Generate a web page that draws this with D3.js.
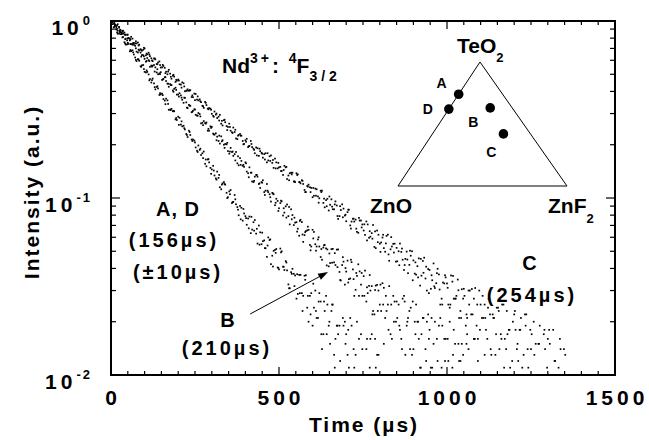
<!DOCTYPE html>
<html>
<head>
<meta charset="utf-8">
<script src="https://cdnjs.cloudflare.com/ajax/libs/d3/7.8.5/d3.min.js"></script>
<style>
  html, body { margin: 0; padding: 0; background: #fff; }
  #chart { width: 649px; height: 440px; }
  text { font-family: "Liberation Sans", Arial, Helvetica, sans-serif; font-weight: bold; fill: #000; }
</style>
</head>
<body>
<div id="chart"></div>
<script>
// 1. DATA (decay curves: [time in us, intensity])
// glasses A and D decay the same way (156 us); each glass was recorded in several scans
const adScan1 = [[0,1],[8,.922],[16,.923],[24,.851],[32,.843],[40,.759],[48,.738],[56,.674],[64,.683],[72,.622],[80,.609],[88,.555],[96,.564],[104,.512],[112,.499],[120,.449],[128,.444],[136,.424],[144,.382],[152,.389],[160,.355],[168,.356],[176,.316],[184,.309],[192,.278],[200,.288],[208,.260],[216,.256],[224,.230],[232,.240],[240,.214],[248,.211],[256,.185],[264,.187],[272,.179],[280,.156],[288,.165],[296,.148],[304,.152],[312,.129],[320,.130],[328,.112],[336,.123],[344,.107],[352,.109],[360,.0936],[368,.104],[376,.0889],[384,.0902],[392,.0745],[400,.0790],[408,.0766],[416,.0633],[424,.0730],[432,.0629],[440,.0699],[448,.0548],[456,.0576],[464,.0465],[472,.0579],[480,.0472],[488,.0509],[496,.0405],[504,.0518],[512,.0409],[520,.0440],[528,.0325],[536,.0381],[544,.0373],[552,.027],[560,.0368],[568,.029],[576,.0364],[584,.024],[592,.028],[600,.019],[608,.030],[616,.021],[624,.026],[632,.017],[640,.028],[648,.019],[656,.023],[664,.013],[672,.019],[680,.019],[696,.020],[704,.013],[712,.021],[728,.013],[744,.017],[760,.014],[776,.017],[792,.013]];

const adScan2 = [[4,.960],[12,.954],[20,.847],[28,.842],[36,.812],[44,.736],[52,.742],[60,.676],[68,.647],[76,.594],[84,.596],[92,.562],[100,.516],[108,.516],[116,.470],[124,.473],[132,.411],[140,.416],[148,.385],[156,.362],[164,.364],[172,.315],[180,.319],[188,.309],[196,.276],[204,.284],[212,.254],[220,.244],[228,.221],[236,.227],[244,.214],[252,.193],[260,.198],[268,.175],[276,.183],[284,.151],[292,.159],[300,.145],[308,.134],[316,.141],[324,.115],[332,.121],[340,.119],[348,.101],[356,.111],[364,.0951],[372,.0922],[380,.0799],[388,.0881],[396,.0818],[404,.0706],[412,.0786],[420,.0663],[428,.0751],[436,.0553],[444,.0640],[452,.0570],[460,.0520],[468,.0599],[476,.0423],[484,.0503],[492,.0515],[500,.0395],[508,.0500],[516,.0392],[524,.0390],[532,.0309],[540,.0398],[548,.0365],[556,.0287],[564,.0368],[572,.028],[580,.0366],[588,.020],[596,.029],[604,.024],[612,.021],[620,.029],[628,.014],[636,.023],[644,.025],[652,.015],[660,.025],[668,.016],[676,.017],[684,.010],[692,.019],[700,.017],[708,.011],[716,.019],[724,.011],[732,.020],[748,.014],[756,.010],[772,.016],[788,.011],[796,.013],[812,.015]];

const adScan3 = [[10,.927],[18,.862],[26,.870],[34,.808],[42,.746],[50,.753],[58,.686],[66,.665],[74,.603],[82,.606],[90,.551],[98,.535],[106,.526],[114,.462],[122,.463],[130,.423],[138,.428],[146,.391],[154,.381],[162,.339],[170,.340],[178,.314],[186,.311],[194,.283],[202,.259],[210,.271],[218,.248],[226,.227],[234,.236],[242,.210],[250,.206],[258,.182],[266,.190],[274,.168],[282,.165],[290,.166],[298,.137],[306,.143],[314,.127],[322,.135],[330,.119],[338,.120],[346,.100],[354,.105],[362,.0948],[370,.0983],[378,.0859],[386,.0758],[394,.0867],[402,.0770],[410,.0674],[418,.0783],[426,.0654],[434,.0670],[442,.0545],[450,.0637],[458,.0521],[466,.0539],[474,.0584],[482,.0410],[490,.0490],[498,.0403],[506,.0493],[514,.0409],[522,.0432],[530,.0309],[538,.0373],[546,.0318],[554,.0371],[562,.029],[570,.023],[578,.0345],[586,.028],[594,.022],[602,.0328],[610,.023],[618,.026],[626,.017],[634,.026],[642,.017],[650,.020],[658,.025],[666,.011],[674,.019],[682,.012],[690,.021],[698,.015],[706,.018],[722,.014],[738,.016],[762,.016],[770,.011],[786,.016]];

const bScan1 = [[4,.985],[8,.966],[16,.895],[24,.916],[32,.849],[40,.839],[48,.777],[56,.796],[64,.734],[72,.724],[80,.664],[88,.663],[96,.641],[104,.589],[112,.601],[120,.560],[128,.564],[136,.512],[144,.506],[152,.465],[160,.481],[168,.443],[176,.440],[184,.405],[192,.420],[200,.384],[208,.380],[216,.345],[224,.347],[232,.336],[240,.305],[248,.317],[256,.292],[264,.298],[272,.266],[280,.265],[288,.240],[296,.254],[304,.231],[312,.232],[320,.210],[328,.223],[336,.200],[344,.201],[352,.178],[360,.182],[368,.177],[376,.157],[384,.168],[392,.152],[400,.159],[408,.138],[416,.139],[424,.123],[432,.135],[440,.120],[448,.123],[456,.108],[464,.120],[472,.105],[480,.107],[488,.0910],[496,.0962],[504,.0936],[512,.0796],[520,.0897],[528,.0790],[536,.0863],[544,.0703],[552,.0730],[560,.0612],[568,.0731],[576,.0617],[584,.0656],[592,.0543],[600,.0661],[608,.0548],[616,.0583],[624,.0464],[632,.0525],[640,.0519],[648,.0411],[656,.0514],[664,.0433],[672,.0511],[680,.0382],[688,.0418],[696,.0324],[704,.0443],[712,.0351],[720,.0395],[728,.0303],[736,.0422],[744,.0324],[752,.0362],[760,.026],[768,.0319],[776,.0318],[784,.022],[792,.0323],[800,.025],[808,.033],[816,.021],[824,.025],[832,.017],[840,.028],[848,.020],[856,.025],[864,.016],[872,.028],[880,.019],[888,.023],[896,.013],[904,.020],[912,.020],[920,.011],[928,.021],[936,.014],[944,.022],[952,.011],[960,.015],[976,.019],[984,.011],[992,.016],[1008,.020],[1016,.011],[1024,.015],[1040,.012],[1048,.013],[1064,.014],[1080,.016],[1112,.013]];

const bScan2 = [[12,.944],[20,.882],[28,.892],[36,.852],[44,.795],[52,.802],[60,.742],[68,.752],[76,.671],[84,.681],[92,.642],[100,.611],[108,.618],[116,.551],[124,.559],[132,.547],[140,.500],[148,.514],[156,.471],[164,.458],[172,.425],[180,.434],[188,.414],[196,.384],[204,.391],[212,.359],[220,.368],[228,.322],[236,.332],[244,.311],[252,.295],[260,.302],[268,.264],[276,.272],[284,.267],[292,.240],[300,.252],[308,.228],[316,.222],[324,.203],[332,.212],[340,.202],[348,.184],[356,.192],[364,.173],[372,.182],[380,.153],[388,.162],[396,.150],[404,.141],[412,.149],[420,.124],[428,.132],[436,.132],[444,.114],[452,.126],[460,.110],[468,.108],[476,.0955],[484,.105],[492,.0990],[500,.0875],[508,.0958],[516,.0827],[524,.0919],[532,.0709],[540,.0801],[548,.0726],[556,.0671],[564,.0753],[572,.0565],[580,.0650],[588,.0661],[596,.0532],[604,.0643],[612,.0532],[620,.0532],[628,.0448],[636,.0543],[644,.0512],[652,.0429],[660,.0516],[668,.0418],[676,.0512],[684,.0342],[692,.0437],[700,.0384],[708,.0348],[716,.0434],[724,.028],[732,.0363],[740,.0385],[748,.028],[756,.0389],[764,.029],[772,.030],[780,.023],[788,.0320],[796,.030],[804,.023],[812,.0311],[820,.023],[828,.0318],[836,.016],[844,.026],[852,.021],[860,.018],[868,.027],[876,.013],[884,.021],[892,.024],[900,.014],[908,.025],[916,.016],[924,.017],[932,.010],[940,.020],[948,.018],[956,.011],[964,.020],[972,.012],[980,.021],[996,.016],[1004,.012],[1020,.018],[1036,.012],[1044,.015],[1060,.017],[1092,.012]];

const bScan3 = [[10,.975],[18,.902],[26,.885],[34,.878],[42,.789],[50,.796],[58,.742],[66,.752],[74,.701],[82,.689],[90,.629],[98,.631],[106,.595],[114,.593],[122,.552],[130,.518],[138,.534],[146,.501],[154,.467],[162,.482],[170,.442],[178,.435],[186,.398],[194,.408],[202,.374],[210,.369],[218,.369],[226,.324],[234,.332],[242,.307],[250,.316],[258,.292],[266,.289],[274,.258],[282,.263],[290,.246],[298,.249],[306,.229],[314,.212],[322,.225],[330,.209],[338,.192],[346,.205],[354,.183],[362,.183],[370,.163],[378,.172],[386,.154],[394,.154],[402,.157],[410,.131],[418,.139],[426,.125],[434,.135],[442,.121],[450,.122],[458,.104],[466,.110],[474,.101],[482,.106],[490,.0940],[498,.0845],[506,.0966],[514,.0875],[522,.0775],[530,.0890],[538,.0758],[546,.0774],[554,.0646],[562,.0742],[570,.0622],[578,.0642],[586,.0689],[594,.0506],[602,.0591],[610,.0504],[618,.0600],[626,.0515],[634,.0541],[642,.0416],[650,.0486],[658,.0431],[666,.0488],[674,.0407],[682,.0344],[690,.0463],[698,.0402],[706,.0333],[714,.0448],[722,.0348],[730,.0377],[738,.028],[746,.0377],[754,.028],[762,.0313],[770,.0367],[778,.022],[786,.0302],[794,.023],[802,.0324],[810,.025],[818,.028],[826,.018],[834,.025],[842,.020],[850,.026],[858,.019],[866,.014],[874,.026],[882,.020],[890,.014],[898,.026],[906,.017],[914,.020],[922,.011],[930,.021],[938,.012],[946,.016],[954,.021],[970,.016],[986,.019],[994,.012],[1002,.016],[1018,.013],[1034,.015],[1058,.015],[1082,.016]];

const cScan1 = [[8,.996],[16,.935],[24,.927],[32,.858],[40,.861],[48,.837],[56,.777],[64,.795],[72,.747],[80,.756],[88,.693],[96,.688],[104,.640],[112,.662],[120,.616],[128,.614],[136,.571],[144,.591],[152,.547],[160,.544],[168,.500],[176,.504],[184,.491],[192,.453],[200,.467],[208,.437],[216,.445],[224,.404],[232,.403],[240,.372],[248,.389],[256,.360],[264,.361],[272,.332],[280,.349],[288,.320],[296,.320],[304,.291],[312,.296],[320,.288],[328,.263],[336,.275],[344,.255],[352,.263],[360,.235],[368,.236],[376,.215],[384,.230],[392,.210],[400,.212],[408,.194],[416,.210],[424,.190],[432,.193],[440,.173],[448,.180],[456,.177],[464,.159],[472,.172],[480,.158],[488,.167],[496,.147],[504,.150],[512,.135],[520,.149],[528,.134],[536,.139],[544,.124],[552,.138],[560,.123],[568,.126],[576,.111],[584,.117],[592,.115],[600,.101],[608,.113],[616,.102],[624,.110],[632,.0938],[640,.0973],[648,.0850],[656,.0983],[664,.0863],[672,.0907],[680,.0790],[688,.0921],[696,.0796],[704,.0832],[712,.0700],[720,.0764],[728,.0755],[736,.0636],[744,.0746],[752,.0655],[760,.0737],[768,.0596],[776,.0633],[784,.0529],[792,.0655],[800,.0552],[808,.0598],[816,.0497],[824,.0621],[832,.0513],[840,.0551],[848,.0437],[856,.0500],[864,.0496],[872,.0392],[880,.0498],[888,.0419],[896,.0500],[904,.0374],[912,.0412],[920,.0320],[928,.0441],[936,.0351],[944,.0397],[952,.0307],[960,.0427],[968,.0330],[976,.0370],[984,.027],[992,.0329],[1000,.0329],[1008,.024],[1016,.0337],[1024,.027],[1032,.0346],[1040,.023],[1048,.027],[1056,.019],[1064,.030],[1072,.022],[1080,.027],[1088,.019],[1096,.030],[1104,.021],[1112,.025],[1120,.016],[1128,.022],[1136,.022],[1144,.013],[1152,.024],[1160,.017],[1168,.025],[1176,.014],[1184,.018],[1200,.022],[1208,.014],[1216,.018],[1224,.011],[1232,.022],[1240,.014],[1248,.018],[1264,.015],[1272,.015],[1288,.017],[1296,.010],[1304,.018],[1320,.012],[1336,.016],[1352,.013]];

const cScan2 = [[12,.943],[20,.959],[28,.865],[36,.881],[44,.837],[52,.802],[60,.814],[68,.735],[76,.747],[84,.735],[92,.679],[100,.699],[108,.648],[116,.633],[124,.593],[132,.607],[140,.583],[148,.546],[156,.557],[164,.517],[172,.530],[180,.472],[188,.485],[196,.460],[204,.439],[212,.450],[220,.401],[228,.411],[236,.406],[244,.371],[252,.387],[260,.356],[268,.348],[276,.323],[284,.335],[292,.322],[300,.299],[308,.308],[316,.283],[324,.295],[332,.257],[340,.268],[348,.252],[356,.240],[364,.250],[372,.217],[380,.227],[388,.225],[396,.202],[404,.216],[412,.197],[420,.194],[428,.179],[436,.191],[444,.184],[452,.169],[460,.179],[468,.163],[476,.174],[484,.148],[492,.159],[500,.149],[508,.142],[516,.152],[524,.128],[532,.138],[540,.139],[548,.123],[556,.136],[564,.121],[572,.120],[580,.108],[588,.119],[596,.114],[604,.103],[612,.112],[620,.0996],[628,.110],[636,.0886],[644,.0990],[652,.0916],[660,.0864],[668,.0957],[676,.0762],[684,.0855],[692,.0871],[700,.0739],[708,.0859],[716,.0736],[724,.0736],[732,.0644],[740,.0746],[748,.0709],[756,.0619],[764,.0709],[772,.0605],[780,.0704],[788,.0521],[796,.0620],[804,.0561],[812,.0521],[820,.0611],[828,.0442],[836,.0532],[844,.0552],[852,.0439],[860,.0553],[868,.0448],[876,.0453],[884,.0376],[892,.0472],[900,.0444],[908,.0369],[916,.0456],[924,.0364],[932,.0460],[940,.030],[948,.0392],[956,.0343],[964,.0310],[972,.0398],[980,.025],[988,.0333],[996,.0356],[1004,.025],[1012,.0365],[1020,.027],[1028,.028],[1036,.021],[1044,.0305],[1052,.028],[1060,.021],[1068,.030],[1076,.022],[1084,.031],[1092,.016],[1100,.025],[1108,.021],[1116,.018],[1124,.027],[1132,.013],[1140,.021],[1148,.024],[1156,.014],[1164,.025],[1172,.016],[1180,.017],[1188,.011],[1196,.020],[1204,.018],[1212,.012],[1220,.021],[1228,.013],[1236,.022],[1252,.017],[1260,.013],[1268,.010],[1276,.019],[1292,.014],[1300,.016],[1316,.018],[1332,.011],[1348,.014]];

const cScan3 = [[10,.960],[18,.947],[26,.874],[34,.880],[42,.836],[50,.837],[58,.787],[66,.744],[74,.768],[82,.727],[90,.685],[98,.706],[106,.655],[114,.647],[122,.599],[130,.614],[138,.570],[146,.564],[154,.565],[162,.507],[170,.518],[178,.484],[186,.497],[194,.465],[202,.461],[210,.420],[218,.427],[226,.404],[234,.407],[242,.380],[250,.357],[258,.375],[266,.352],[274,.330],[282,.345],[290,.317],[298,.315],[306,.288],[314,.300],[322,.274],[330,.273],[338,.277],[346,.242],[354,.252],[362,.233],[370,.243],[378,.225],[386,.225],[394,.201],[402,.208],[410,.196],[418,.202],[426,.187],[434,.174],[442,.190],[450,.178],[458,.165],[466,.179],[474,.162],[482,.164],[490,.147],[498,.158],[506,.142],[514,.144],[522,.150],[530,.126],[538,.136],[546,.124],[554,.135],[562,.123],[570,.125],[578,.108],[586,.116],[594,.108],[602,.114],[610,.103],[618,.0941],[626,.108],[634,.0992],[642,.0898],[650,.102],[658,.0894],[666,.0920],[674,.0791],[682,.0899],[690,.0778],[698,.0805],[706,.0859],[714,.0672],[722,.0764],[730,.0671],[738,.0772],[746,.0682],[754,.0710],[762,.0576],[770,.0649],[778,.0589],[786,.0648],[794,.0563],[802,.0496],[810,.0620],[818,.0554],[826,.0480],[834,.0601],[842,.0492],[850,.0523],[858,.0417],[866,.0518],[874,.0418],[882,.0449],[890,.0504],[898,.0343],[906,.0433],[914,.0356],[922,.0453],[930,.0378],[938,.0409],[946,.029],[954,.0366],[962,.0317],[970,.0376],[978,.0304],[986,.025],[994,.0366],[1002,.0311],[1010,.025],[1018,.0363],[1026,.027],[1034,.0301],[1042,.021],[1050,.0307],[1058,.022],[1066,.025],[1074,.0306],[1082,.016],[1090,.025],[1098,.018],[1106,.028],[1114,.021],[1122,.024],[1130,.014],[1138,.021],[1146,.017],[1154,.023],[1162,.016],[1170,.011],[1178,.023],[1186,.018],[1194,.012],[1202,.023],[1210,.015],[1218,.018],[1234,.019],[1242,.011],[1250,.014],[1258,.020],[1274,.015],[1290,.018],[1298,.011],[1306,.015],[1322,.012],[1338,.014]];

// axis ticks
const xTickLabels = [0, 500, 1000, 1500];
const yDecades = [1, 0.1, 0.01];
const yDecadeExp = ["0", "-1", "-2"];

// ternary inset: compositions (mol%) TeO2 / ZnO / ZnF2
const glassNames = ["A", "D", "B", "C"];
const teo2 = [74, 62, 63, 42];
const zno  = [26, 38, 13, 16];
const znf2 = [0, 0, 24, 42];

// annotation arrow (time, intensity) for label B
const arrowB = [[414, 0.0221], [646, 0.0382]];

// 2. CHART
const width = 649, height = 440;
const svg = d3.select("#chart").append("svg")
    .attr("width", width).attr("height", height);

const x = d3.scaleLinear().domain([0, 1500]).range([111, 615]);
const y = d3.scaleLog().domain([0.01, 1]).range([375, 21]);

svg.append("defs").append("clipPath").attr("id", "plot-clip")
  .append("rect")
    .attr("x", x(0)).attr("y", y(1))
    .attr("width", x(1500) - x(0)).attr("height", y(0.01) - y(1));

// --- POINTS ---
const scans = [adScan1, adScan2, adScan3, bScan1, bScan2, bScan3, cScan1, cScan2, cScan3];
const pts = svg.append("g").attr("clip-path", "url(#plot-clip)");
scans.forEach(series => {
    pts.selectAll(null)
      .data(series.filter(d => d[1] >= 0.01 && d[1] <= 1))
      .join("rect")
        .attr("x", d => x(d[0]) - 0.85)
        .attr("y", d => y(d[1]) - 0.85)
        .attr("width", 1.7).attr("height", 1.7)
        .attr("fill", "#000");
});

// --- FRAME & TICKS ---
const axes = svg.append("g").attr("stroke", "#000");
axes.append("rect")
    .attr("x", x(0)).attr("y", y(1))
    .attr("width", x(1500) - x(0)).attr("height", y(0.01) - y(1))
    .attr("fill", "none").attr("stroke-width", 2);

d3.range(50, 1500, 50).forEach(v => {
    const len = v % 500 === 0 ? 8 : 4;
    axes.append("line").attr("x1", x(v)).attr("x2", x(v))
        .attr("y1", y(0.01)).attr("y2", y(0.01) - len).attr("stroke-width", 1.2);
    axes.append("line").attr("x1", x(v)).attr("x2", x(v))
        .attr("y1", y(1)).attr("y2", y(1) + len).attr("stroke-width", 1.2);
});

y.ticks().forEach(v => {
    const major = yDecades.some(d => Math.abs(d - v) < 1e-9);
    if (v === 1 || v === 0.01) return;
    const len = major ? 9 : 5;
    axes.append("line").attr("x1", x(0)).attr("x2", x(0) + len)
        .attr("y1", y(v)).attr("y2", y(v)).attr("stroke-width", 1.2);
    axes.append("line").attr("x1", x(1500)).attr("x2", x(1500) - len)
        .attr("y1", y(v)).attr("y2", y(v)).attr("stroke-width", 1.2);
});

// tick labels
svg.selectAll("text.xtick").data(xTickLabels).join("text")
    .attr("class", "xtick")
    .attr("x", d => x(d) + 2)
    .attr("y", 405)
    .attr("text-anchor", "middle")
    .style("font-size", "21px")
    .style("letter-spacing", "4px")
    .text(d => d);

yDecades.forEach((v, k) => {
    const t = svg.append("text")
        .attr("x", 92).attr("y", y(v) + 14)
        .attr("text-anchor", "end")
        .style("font-size", "21px");
    t.append("tspan").style("letter-spacing", "4px").text("10");
    t.append("tspan").attr("dy", -10).style("font-size", "13px")
        .style("letter-spacing", "2px").text(yDecadeExp[k]);
});

// axis titles
svg.append("text")
    .attr("x", 364).attr("y", 432)
    .attr("text-anchor", "middle")
    .style("font-size", "21px").style("letter-spacing", "2px")
    .text("Time  (\u00b5s)");

svg.append("text")
    .attr("transform", "translate(39,192) rotate(-90)")
    .attr("text-anchor", "middle")
    .style("font-size", "21px").style("letter-spacing", "2px")
    .text("Intensity  (a.u.)");

// --- ANNOTATIONS ---
function label(px, py, str, size, spacing) {
    return svg.append("text").attr("x", px).attr("y", py)
        .attr("text-anchor", "middle")
        .style("font-size", size + "px")
        .style("letter-spacing", spacing + "px")
        .text(str);
}
label(178, 216, "A,  D", 20, 1);
label(174, 247, "(156\u00b5s)", 20, 3);
label(178, 279, "(\u00b110\u00b5s)", 20, 3);
label(228, 327, "B", 20, 1);
label(227, 355, "(210\u00b5s)", 20, 3);
label(530, 270, "C", 20, 1);
label(532, 302, "(254\u00b5s)", 20, 3);

// arrow to curve B
const [a0, a1] = arrowB.map(d => [x(d[0]), y(d[1])]);
const ang = Math.atan2(a1[1] - a0[1], a1[0] - a0[0]);
svg.append("line")
    .attr("x1", a0[0]).attr("y1", a0[1])
    .attr("x2", a1[0] - 8 * Math.cos(ang)).attr("y2", a1[1] - 8 * Math.sin(ang))
    .attr("stroke", "#000").attr("stroke-width", 1);
svg.append("path")
    .attr("d", `M0,0 L-10,-3.5 L-10,3.5 Z`)
    .attr("transform", `translate(${a1[0]},${a1[1]}) rotate(${ang * 180 / Math.PI})`)
    .attr("fill", "#000");

// Nd3+ level label
const nd = svg.append("text").attr("x", 222).attr("y", 73).style("font-size", "21px");
nd.append("tspan").text("Nd");
nd.append("tspan").attr("dy", -10).style("font-size", "14px").style("letter-spacing", "3px").text("3+");
nd.append("tspan").attr("dy", 10).text(": ");
nd.append("tspan").attr("dx", 4).attr("dy", -10).style("font-size", "14px").text("4");
nd.append("tspan").attr("dy", 10).text("F");
nd.append("tspan").attr("dy", 8).style("font-size", "14px").style("letter-spacing", "4px").text("3/2");

// --- TERNARY INSET ---
const apex = [480, 62], left = [398, 186], right = [567, 186];
svg.append("path")
    .attr("d", d3.line()([apex, left, right, apex]) + "Z")
    .attr("fill", "none").attr("stroke", "#000").attr("stroke-width", 1);

const tern = glassNames.map((n, k) => {
    const s = teo2[k] + zno[k] + znf2[k];
    const a = teo2[k] / s, b = zno[k] / s, c = znf2[k] / s;
    return {
        name: n,
        px: a * apex[0] + b * left[0] + c * right[0],
        py: a * apex[1] + b * left[1] + c * right[1]
    };
});
svg.selectAll("circle.glass").data(tern).join("circle")
    .attr("class", "glass")
    .attr("cx", d => d.px).attr("cy", d => d.py)
    .attr("r", 4.8).attr("fill", "#000");

const glassOffset = { A: [-17, -6], D: [-21, 5], B: [-17, 19], C: [-12, 23] };
svg.selectAll("text.glass").data(tern).join("text")
    .attr("class", "glass")
    .attr("x", d => d.px + glassOffset[d.name][0])
    .attr("y", d => d.py + glassOffset[d.name][1])
    .attr("text-anchor", "middle")
    .style("font-size", "14px")
    .text(d => d.name);

const teo = svg.append("text").attr("x", 457).attr("y", 53).style("font-size", "21px");
teo.append("tspan").text("TeO");
teo.append("tspan").attr("dy", 9).style("font-size", "13px").text("2");
svg.append("text").attr("x", 370).attr("y", 213).style("font-size", "21px").text("ZnO");
const znf = svg.append("text").attr("x", 548).attr("y", 213).style("font-size", "21px");
znf.append("tspan").text("ZnF");
znf.append("tspan").attr("dy", 10).style("font-size", "13px").text("2");
</script>
</body>
</html>
